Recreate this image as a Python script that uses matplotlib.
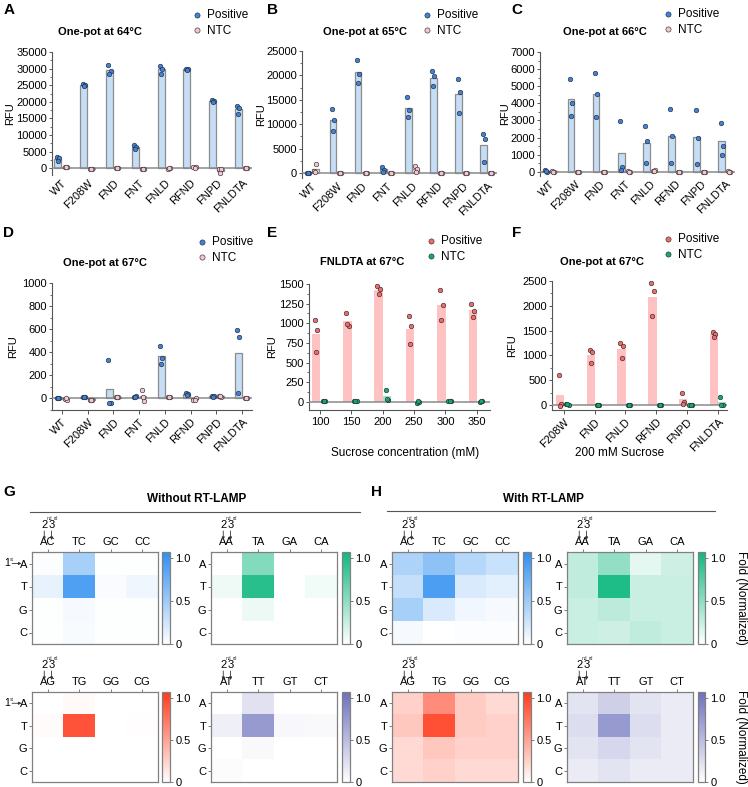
import numpy as np
import matplotlib
matplotlib.use('Agg')
import matplotlib.pyplot as plt
from matplotlib.colors import LinearSegmentedColormap
from matplotlib.ticker import AutoMinorLocator

plt.rcParams['font.family'] = ['Liberation Sans', 'DejaVu Sans']
plt.rcParams['mathtext.fontset'] = 'custom'
plt.rcParams['mathtext.rm'] = 'Liberation Sans'

# ---------------- data ----------------
variants = ['WT', 'F208W', 'FND', 'FNT', 'FNLD', 'RFND', 'FNPD', 'FNLDTA']

pos64 = [[3500, 3000, 2200], [25500, 25200, 24800], [31000, 29400, 28500], [7000, 6500, 5800],
         [30900, 29900, 28500], [30000, 29800, 29500], [20600, 20300, 20100], [18800, 18100, 16400]]
ntc64 = [[500, 400, 300], [-100, -100, -100], [0, 0, 0], [-100, -100, -100],
         [-100, 200, 100], [500, 300, 100], [-200, -300, -1500], [0, 0, 0]]

pos65 = [[0, 0, 0], [13200, 10900, 8700], [23200, 20200, 18500], [1300, 700, 300],
         [15600, 13000, 11500], [21000, 19800, 17800], [19200, 16700, 12400], [8100, 7000, 2200]]
ntc65 = [[500, 1800, 300], [0, 0, 0], [0, 0, 0], [0, 0, 0],
         [1500, 800, 300], [0, 0, 0], [0, 0, 0], [0, 0, 0]]

pos66 = [[100, 0, 50], [5450, 4000, 3250], [5800, 4550, 3200], [2950, 250, 100],
         [2700, 1800, 500], [3650, 2100, 500], [3600, 1980, 450], [2850, 1500, 1000]]
ntc66 = [[30, 0, 10], [0, 0, 0], [0, 0, 0], [20, 0, 10],
         [50, 100, 60], [0, 0, 0], [0, 0, 0], [20, 0, 10]]

pos67 = [[5, 5, 5], [15, 10, 15], [335, -40, -40], [15, 20, 10],
         [450, 350, 300], [50, 40, 30], [25, 25, 10], [595, 530, 50]]
ntc67 = [[-5, -10, 0], [-10, -10, -10], [10, 10, 10], [70, -20, 10],
         [10, 10, 10], [-10, 0, -10], [20, 15, 25], [5, 5, 5]]

sucrose = ['100', '150', '200', '250', '300', '350']
pos_suc = [[1040, 910, 640], [1130, 970, 990], [1470, 1430, 1370],
           [1095, 960, 735], [1425, 1235, 1045], [1245, 1160, 1085]]
ntc_suc = [[5, 10, 15], [5, 10, 10], [155, 20, 30], [-10, 0, 5], [10, 15, 5], [-5, 5, 5]]

variants_f = ['F208W', 'FND', 'FNLD', 'RFND', 'FNPD', 'FNLDTA']
pos_f = [[615, 20, -10], [1110, 1070, 840], [1245, 1200, 950],
         [2465, 2300, 1795], [250, 60, 30], [1470, 1430, 1375]]
ntc_f = [[30, 10, 20], [5, 5, 5], [0, 0, 0], [-5, -5, -5], [-5, -5, -5], [160, 10, 10]]

rows = ['A', 'T', 'G', 'C']
cols_ac = ['AC', 'TC', 'GC', 'CC']
cols_aa = ['AA', 'TA', 'GA', 'CA']
cols_ag = ['AG', 'TG', 'GG', 'CG']
cols_at = ['AT', 'TT', 'GT', 'CT']

g_ac = [[0.02, 0.45, 0.01, 0.01], [0.12, 0.90, 0.03, 0.08], [0.01, 0.05, 0.01, 0.01], [0.01, 0.04, 0.01, 0.01]]
g_aa = [[0.0, 0.55, 0.0, 0.0], [0.07, 0.95, 0.0, 0.06], [0.0, 0.08, 0.0, 0.0], [0.0, 0.0, 0.0, 0.0]]
g_ag = [[0.0, 0.03, 0.0, 0.0], [0.02, 0.93, 0.0, 0.01], [0.0, 0.0, 0.0, 0.0], [0.0, 0.0, 0.0, 0.0]]
g_at = [[0.0, 0.22, 0.0, 0.0], [0.12, 0.75, 0.05, 0.04], [0.0, 0.04, 0.0, 0.0], [0.02, 0.0, 0.0, 0.0]]

h_ac = [[0.42, 0.58, 0.38, 0.28], [0.30, 0.92, 0.20, 0.15], [0.45, 0.20, 0.07, 0.05], [0.05, 0.0, 0.02, 0.02]]
h_aa = [[0.28, 0.48, 0.12, 0.22], [0.28, 1.0, 0.24, 0.24], [0.24, 0.30, 0.24, 0.24], [0.24, 0.22, 0.28, 0.24]]
h_ag = [[0.25, 0.62, 0.28, 0.20], [0.30, 0.95, 0.28, 0.25], [0.20, 0.30, 0.25, 0.25], [0.20, 0.25, 0.20, 0.20]]
h_at = [[0.20, 0.35, 0.20, 0.15], [0.25, 0.75, 0.25, 0.15], [0.20, 0.30, 0.20, 0.15], [0.15, 0.20, 0.15, 0.15]]

# ---------------- figure ----------------
W, H = 748, 787
fig = plt.figure(figsize=(W / 100, H / 100), dpi=100)


def px_axes(x0, y0, x1, y1):
    return fig.add_axes([x0 / W, 1 - y1 / H, (x1 - x0) / W, (y1 - y0) / H])


def ftext(x, y, s, **kw):
    fig.text(x / W, 1 - y / H, s, **kw)


def farrow(x0, y0, x1, y1):
    fig.add_artist(matplotlib.patches.FancyArrowPatch(
        (x0 / W, 1 - y0 / H), (x1 / W, 1 - y1 / H), transform=fig.transFigure,
        arrowstyle='-|>', mutation_scale=4, lw=0.6, color='#333333',
        shrinkA=0, shrinkB=0))


blue_bar, blue_pt, pink_pt = '#c6ddf6', '#3f82dc', '#f5c4d4'
red_bar, red_pt, green_pt = '#ffc2c2', '#f06a6a', '#16a673'
jit = np.array([-0.04, 0.04, 0.0])


def bar_panel(box, cats, pos, ntc, ylim, ystep, colors, title, title_xy, leg_xy, ylab_x,
              rot=True, off=0.15, xlim=None, bottom_spine=False, xlabel=None):
    bar_c, pos_c, ntc_c, nbar_c, edge = colors
    ax = px_axes(*box)
    x = np.arange(len(cats))
    pos = np.array(pos, float)
    ntc = np.array(ntc, float)
    ekw = dict(edgecolor=edge, linewidth=0.9) if edge else dict(linewidth=0)
    ax.bar(x - off, pos.mean(axis=1), width=0.27, color=bar_c, zorder=2, **ekw)
    ax.bar(x + off, ntc.mean(axis=1), width=0.27, color=nbar_c, zorder=2, **ekw)
    for i in range(len(cats)):
        ax.scatter(x[i] - off + jit, pos[i], s=11, c=pos_c, edgecolors='#222222',
                   linewidths=0.4, zorder=4)
        ax.scatter(x[i] + off + jit, ntc[i], s=11, c=ntc_c, edgecolors='#222222',
                   linewidths=0.4, zorder=4)
    ax.axhline(0, color='#8a8a8a', lw=1.1, zorder=3)
    ax.set_ylim(*ylim)
    ax.set_yticks(np.arange(0, ylim[1] + 1, ystep))
    ax.yaxis.set_minor_locator(AutoMinorLocator(2))
    ax.set_xlim(*(xlim if xlim else (-0.38, len(cats) - 0.62)))
    ax.set_xticks(x)
    if rot:
        ax.set_xticklabels(cats, rotation=45, ha='right', rotation_mode='anchor')
    else:
        ax.set_xticklabels(cats)
    for s in ['top', 'right']:
        ax.spines[s].set_visible(False)
    ax.spines['left'].set_color('#555555')
    ax.spines['bottom'].set_color('#555555')
    ax.spines['bottom'].set_visible(bottom_spine)
    ax.tick_params(axis='y', labelsize=8, length=2.5, width=0.7, color='#555555', pad=1)
    ax.tick_params(axis='y', which='minor', length=1.5, width=0.6, color='#555555')
    ax.tick_params(axis='x', labelsize=8, length=3 if bottom_spine else 0, width=0.7,
                   color='#555555', pad=2)
    ftext(title_xy[0], title_xy[1], title, fontsize=8, fontweight='bold', ha='center', va='center')
    ftext(ylab_x, (box[1] + box[3]) / 2, 'RFU', fontsize=8, rotation=90, ha='center', va='center')
    h1 = ax.scatter([], [], s=14, c=pos_c, edgecolors='#222222', linewidths=0.4, label='Positive')
    h2 = ax.scatter([], [], s=14, c=ntc_c, edgecolors='#222222', linewidths=0.4, label='NTC')
    ax.legend(handles=[h1, h2], loc='upper left',
              bbox_to_anchor=((leg_xy[0] - 5) / W, 1 - (leg_xy[1] - 8) / H),
              bbox_transform=fig.transFigure, frameon=False, fontsize=8.5, borderpad=0,
              borderaxespad=0, handlelength=0.8, handletextpad=0.5, labelspacing=0.3)
    if xlabel:
        ftext(xlabel[1], 453, xlabel[0], fontsize=8.5, ha='center', va='center')
    return ax


blue_cols = (blue_bar, blue_pt, pink_pt, '#f6e3ea', '#8c8c8c')
red_cols = (red_bar, red_pt, green_pt, '#a8e0c8', None)

bar_panel((52, 52, 252, 175), variants, pos64, ntc64, (-2000, 35000), 5000, blue_cols,
          'One-pot at 64°C', (100, 32), (197, 17), 10)
bar_panel((302, 51, 497, 178), variants, pos65, ntc65, (-1000, 25000), 5000, blue_cols,
          'One-pot at 65°C', (365, 32), (427, 17), 261)
bar_panel((540, 52, 735, 176), variants, pos66, ntc66, (-250, 7000), 1000, blue_cols,
          'One-pot at 66°C', (605, 32), (668, 16), 505)
bar_panel((52, 283, 252, 410), variants, pos67, ntc67, (-100, 1000), 200, blue_cols,
          'One-pot at 67°C', (105, 263), (202, 244), 13, bottom_spine=True)
bar_panel((309, 284, 490, 410), sucrose, pos_suc, ntc_suc, (-105, 1500), 250, red_cols,
          'FNLDTA at 67°C', (362, 262), (431, 243), 272, rot=False, off=0.13,
          xlim=(-0.35, 5.42), bottom_spine=True, xlabel=('Sucrose concentration (mM)', 405))
bar_panel((552, 281, 727, 410), variants_f, pos_f, ntc_f, (-100, 2500), 500, red_cols,
          'One-pot at 67°C', (602, 262), (668, 241), 512, off=0.12,
          xlim=(-0.38, 5.3), bottom_spine=True, xlabel=('200 mM Sucrose', 620))

# ---------------- heatmaps ----------------
cm_blue = LinearSegmentedColormap.from_list('b', ['#ffffff', '#2f8ff0'])
cm_green = LinearSegmentedColormap.from_list('g', ['#ffffff', '#0fb87e'])
cm_red = LinearSegmentedColormap.from_list('r', ['#ffffff', '#ff3a1c'])
cm_purple = LinearSegmentedColormap.from_list('p', ['#ffffff', '#6c70bb'])


def heatmap(box, cb_x, vals, cols, cmap, first=False):
    x0, y0, x1, y1 = box
    ax = px_axes(*box)
    im = ax.imshow(np.array(vals), cmap=cmap, vmin=0, vmax=1.07, aspect='auto',
                   extent=(-0.5, 3.5, 3.5, -0.5))
    ax.set_xticks(range(4))
    ax.set_xticklabels(cols)
    ax.xaxis.tick_top()
    ax.set_yticks(range(4))
    ax.set_yticklabels(rows)
    ax.tick_params(labelsize=8, length=2, width=0.6, color='#666666', pad=1.5)
    for s in ax.spines.values():
        s.set_color('#808080')
        s.set_linewidth(0.9)
    # 2nd / 3rd position markers above the first column label
    cw = (x1 - x0) / 4
    xc = x0 + cw / 2
    for dx, num, sup in [(-3.5, '2', 'nd'), (3.8, '3', 'rd')]:
        ftext(xc + dx, y0 - 27, num, fontsize=8, ha='center', va='center')
        ftext(xc + dx + 2, y0 - 34, sup, fontsize=3.5, ha='left', va='center', color='#333333')
        farrow(xc + dx, y0 - 21, xc + dx, y0 - 12)
    if first:
        yr = y0 + (y1 - y0) / 8
        ftext(7, yr, '1', fontsize=7.5, ha='center', va='center')
        ftext(9.5, yr - 4, 'st', fontsize=3.5, ha='left', va='center', color='#333333')
        farrow(12, yr, 21.5, yr)
    cax = px_axes(cb_x[0], y0, cb_x[1], y1)
    cb = fig.colorbar(im, cax=cax, ticks=[0, 0.5, 1.0])
    cb.ax.set_yticklabels(['0', '0.5', '1.0'])
    cb.ax.tick_params(labelsize=8, length=2, width=0.6, color='#666666', pad=2)
    cb.outline.set_edgecolor('#808080')
    cb.outline.set_linewidth(0.9)
    return ax


heatmap((32, 552, 158, 644), (162, 170), g_ac, cols_ac, cm_blue, first=True)
heatmap((211, 552, 337, 644), (342, 350), g_aa, cols_aa, cm_green)
heatmap((32, 692, 158, 782), (162, 170), g_ag, cols_ag, cm_red, first=True)
heatmap((211, 692, 337, 782), (342, 350), g_at, cols_at, cm_purple)
heatmap((392, 552, 518, 644), (523, 531), h_ac, cols_ac, cm_blue)
heatmap((567, 552, 693, 644), (698, 705), h_aa, cols_aa, cm_green)
heatmap((392, 692, 518, 782), (523, 531), h_ag, cols_ag, cm_red)
heatmap((567, 692, 693, 782), (698, 705), h_at, cols_at, cm_purple)

ftext(741, 598, 'Fold (Normalized)', fontsize=8.5, rotation=-90, ha='center', va='center')
ftext(741, 737, 'Fold (Normalized)', fontsize=8.5, rotation=-90, ha='center', va='center')

# section headers
ftext(197, 499, 'Without RT-LAMP', fontsize=8.5, fontweight='bold', ha='center', va='center')
ftext(543, 499, 'With RT-LAMP', fontsize=8.5, fontweight='bold', ha='center', va='center')
fig.add_artist(plt.Line2D([30 / W, 360 / W], [1 - 512 / H] * 2, color='#555555', lw=0.8))
fig.add_artist(plt.Line2D([387 / W, 715 / W], [1 - 511 / H] * 2, color='#555555', lw=0.8))

# panel letters
for lt, (lx, ly) in zip('ABCDEFGH', [(9, 10), (273, 10), (517, 10), (9, 233), (272, 233),
                                     (517, 233), (9, 492), (376, 492)]):
    ftext(lx, ly, lt, fontsize=11, fontweight='bold', ha='center', va='center')

fig.savefig('out.png', dpi=100)
